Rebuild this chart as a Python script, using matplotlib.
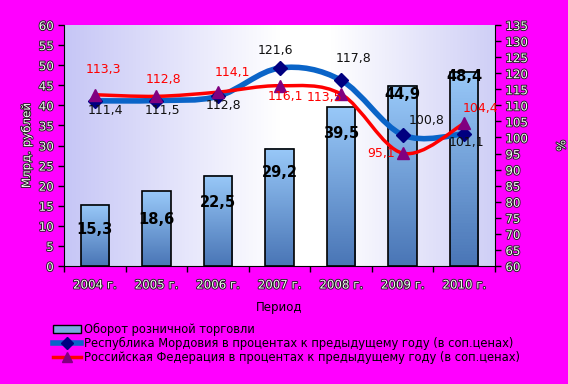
import numpy as np
import matplotlib
matplotlib.use("Agg")
import matplotlib.pyplot as plt
import matplotlib.patheffects as pe
from matplotlib.path import Path
from matplotlib.patches import PathPatch, Patch
from matplotlib.lines import Line2D
from matplotlib.colors import LinearSegmentedColormap

years = ["2004 г.", "2005 г.", "2006 г.", "2007 г.", "2008 г.", "2009 г.", "2010 г."]
turnover = [15.3, 18.6, 22.5, 29.2, 39.5, 44.9, 48.4]
mordovia = [111.4, 111.5, 112.8, 121.6, 117.8, 100.8, 101.1]
russia = [113.3, 112.8, 114.1, 116.1, 113.5, 95.1, 104.4]

lbl_bars = "Оборот розничной торговли"
lbl_mord = "Республика Мордовия в процентах к предыдущему году (в соп.ценах)"
lbl_rus = "Российская Федерация в процентах к предыдущему году (в соп.ценах)"

# label offsets in pixels (dx, dy)
bar_lbl_drop = [6.3, 6.9, 6.8, 5.8, 6.4, 2.3, 1.1]
mord_off = [(11, -10), (6, -10), (6, -9), (-4, 18), (12, 22), (24, 14), (2, -9)]
rus_off = [(9, 25), (7, 17), (14, 20), (6, -11), (-17, -3), (-22, 0), (16, 15)]

MAG = "#FF00FF"
outline = [pe.withStroke(linewidth=1.3, foreground="#202020")]


def smooth_path(x, y):
    pts = np.column_stack([x, y]).astype(float)
    p = np.vstack([pts[0], pts, pts[-1]])
    verts = [pts[0]]
    codes = [Path.MOVETO]
    for i in range(1, len(p) - 2):
        c1 = p[i] + (p[i + 1] - p[i - 1]) / 6.0
        c2 = p[i + 1] - (p[i + 2] - p[i]) / 6.0
        verts += [c1, c2, p[i + 1]]
        codes += [Path.CURVE4] * 3
    return Path(verts, codes)


fig = plt.figure(figsize=(5.68, 3.84), dpi=100, facecolor=MAG)
ax = fig.add_axes([64 / 568, 1 - 266 / 384, (495 - 64) / 568, (266 - 25) / 384])
ax.set_facecolor("white")

# plot area background gradient
bg = LinearSegmentedColormap.from_list(
    "bg", [(0, "#C6C6F6"), (0.5, "#FFFFFF"), (0.62, "#FFFFFF"), (1, "#CFCFF6")])
ax.imshow(np.linspace(0, 1, 256)[None, :], cmap=bg, aspect="auto",
          extent=[0, 1, 0, 1], transform=ax.transAxes, zorder=0)

x = np.arange(len(years))
w = 0.46
barcm = LinearSegmentedColormap.from_list("bar", ["#4A76B6", "#98C8F8"])
bars = ax.bar(x, turnover, width=w, facecolor="none", edgecolor="black",
              linewidth=1.2, zorder=3)
for b in bars:
    ax.imshow(np.linspace(0, 1, 64)[:, None], cmap=barcm, origin="lower",
              aspect="auto", extent=[b.get_x(), b.get_x() + w, 0, b.get_height()],
              zorder=2)
for xi, v, d in zip(x, turnover, bar_lbl_drop):
    ax.text(xi, v - d, f"{v:.1f}".replace(".", ","), ha="center", va="center",
            fontsize=10.5, fontweight="bold", color="black", zorder=4)

ax.set_xlim(-0.5, 6.5)
ax.set_ylim(0, 60)
ax.set_yticks(np.arange(0, 61, 5))
ax.set_xticks(np.arange(-0.5, 7, 1))
ax.set_xticklabels([])
ax.set_xticks(x, minor=True)
ax.set_xticklabels(years, minor=True)
ax.tick_params(axis="x", which="minor", length=0, pad=9)
ax.tick_params(axis="x", which="major", length=4, width=1)
ax.tick_params(axis="y", length=4, width=1)
for lab in ax.get_yticklabels() + ax.get_xticklabels(minor=True):
    lab.set_color("#F4F4F4")
    lab.set_fontsize(8.5)
    lab.set_path_effects(outline)
ax.spines["top"].set_visible(False)
ax.spines["right"].set_visible(False)
ax.set_ylabel("Млрд. рублей", fontsize=8.5, color="#F4F4F4", path_effects=outline,
              labelpad=4)

ax2 = ax.twinx()
ax2.set_ylim(60, 135)
ax2.set_yticks(np.arange(60, 136, 5))
ax2.tick_params(axis="y", length=4, width=1)
for lab in ax2.get_yticklabels():
    lab.set_color("#F4F4F4")
    lab.set_fontsize(8.5)
    lab.set_path_effects(outline)
for s in ["top", "left", "bottom"]:
    ax2.spines[s].set_visible(False)
ax2.set_ylabel("%", fontsize=8.5, color="#F4F4F4", path_effects=outline,
               rotation=270, labelpad=28)

ax2.add_patch(PathPatch(smooth_path(x, mordovia), facecolor="none",
                        edgecolor="#0A64C8", linewidth=4, zorder=5))
ax2.add_patch(PathPatch(smooth_path(x, russia), facecolor="none",
                        edgecolor="#FF0000", linewidth=2.5, zorder=6))
ax2.plot(x, mordovia, linestyle="none", marker="D", markersize=7,
         color="#000080", zorder=7)
ax2.plot(x, russia, linestyle="none", marker="^", markersize=8,
         color="#800080", zorder=8)

for xi, v, o in zip(x, mordovia, mord_off):
    ax2.annotate(f"{v:.1f}".replace(".", ","), (xi, v), xytext=o,
                 textcoords="offset pixels", ha="center", va="center",
                 fontsize=9, color="#101010", zorder=9)
for xi, v, o in zip(x, russia, rus_off):
    ax2.annotate(f"{v:.1f}".replace(".", ","), (xi, v), xytext=o,
                 textcoords="offset pixels", ha="center", va="center",
                 fontsize=9, color="#FF0000", zorder=9)

fig.text(279 / 568, 1 - 307 / 384, "Период", ha="center", va="center",
         fontsize=8.5, color="black")

handles = [
    Patch(facecolor="#7AAAE0", edgecolor="black", linewidth=1),
    Line2D([], [], color="#0A64C8", linewidth=4, marker="D", markersize=6,
           markerfacecolor="#000080", markeredgecolor="#000080"),
    Line2D([], [], color="#FF0000", linewidth=2.5, marker="^", markersize=7,
           markerfacecolor="#800080", markeredgecolor="#800080"),
]
fig.legend(handles, [lbl_bars, lbl_mord, lbl_rus], loc="upper left",
           bbox_to_anchor=(53 / 568, 1 - 323 / 384), frameon=False,
           fontsize=8.3, handlelength=2.4, handletextpad=0.3,
           labelspacing=0.08, borderpad=0, borderaxespad=0)

fig.savefig("out.png", dpi=100, facecolor=MAG)
